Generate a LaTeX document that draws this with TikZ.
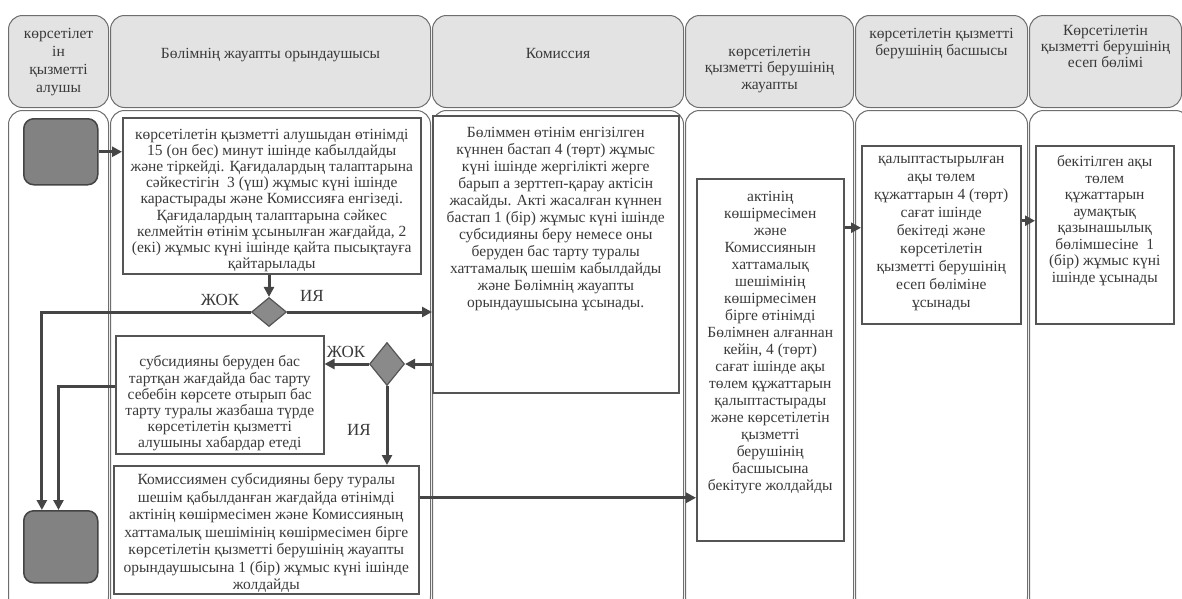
\documentclass[tikz,border=0pt]{standalone}
\usepackage{fontspec}
\setmainfont{Liberation Serif}
\usetikzlibrary{shapes.geometric,arrows.meta,calc}
\definecolor{lanec}{HTML}{6E6E6E}
\definecolor{hdrfill}{HTML}{E3E3E3}
\definecolor{boxc}{HTML}{555555}
\definecolor{arrc}{HTML}{454545}
\definecolor{txtc}{HTML}{3A3A3A}
\definecolor{startfill}{HTML}{828282}
\definecolor{diafill}{HTML}{8A8A8A}
\newcommand{\bfnt}[1]{\fontsize{15.5}{#1}\selectfont}
\newcommand{\hfnt}[1]{\fontsize{15.5}{#1}\selectfont}
\newcommand{\pbx}[4]{\parbox[c][#2][t]{#1}{\centering\vspace*{#3}#4\par}}
\tikzset{
  hdr/.style={draw=lanec, fill=hdrfill, line width=1pt, rounded corners=14pt, inner sep=0pt, anchor=north west, text=txtc},
  lanebody/.style={draw=lanec, fill=white, line width=1pt, rounded corners=14pt, inner sep=0pt, anchor=north west, minimum height=500pt},
  box/.style={draw=boxc, fill=white, line width=1.5pt, inner sep=0pt, anchor=north west, text=txtc},
  term/.style={draw=boxc!80!black, fill=startfill, line width=1.5pt, rounded corners=10pt, inner sep=0pt, anchor=north west},
  dia/.style={diamond, draw=boxc, fill=diafill, line width=1.2pt, inner sep=0pt},
  arr/.style={draw=arrc, line width=3pt, -{Triangle[length=10pt,width=10pt]}},
  lbl/.style={text=txtc, font=\fontsize{17}{19}\selectfont, inner sep=0pt},
}
\begin{document}
\begin{tikzpicture}[x=1pt,y=-1pt]
\useasboundingbox (0,0) rectangle (1182,598);
\clip (0,0) rectangle (1182,598);
% headers
\node[hdr] (h1) at (8,15) {\pbx{100pt}{92pt}{12.5pt}{\hfnt{18}көрсетілет\\ін\\қызметті\\алушы}};
\node[hdr] (h2) at (110,15) {\pbx{320pt}{92pt}{32.5pt}{\hfnt{17}Бөлімнің жауапты орындаушысы}};
\node[hdr] (h3) at (432,15) {\pbx{251pt}{92pt}{32.5pt}{\hfnt{17}Комиссия}};
\node[hdr] (h4) at (685,15) {\pbx{168pt}{92pt}{30.5pt}{\hfnt{16.5}көрсетілетін\\қызметті берушінің\\жауапты}};
\node[hdr] (h5) at (855,15) {\pbx{172pt}{92pt}{12.5pt}{\hfnt{17}көрсетілетін қызметті\\берушінің басшысы}};
\node[hdr] (h6) at (1029,15) {\pbx{152pt}{92pt}{9.5pt}{\hfnt{16}Көрсетілетін\\қызметті берушінің\\есеп бөлімі}};
% lanes
\node[lanebody, minimum width=100pt] (l1) at (8,110) {};
\node[lanebody, minimum width=320pt] (l2) at (110,110) {};
\node[lanebody, minimum width=251pt] (l3) at (432,110) {};
\node[lanebody, minimum width=168pt] (l4) at (685,110) {};
\node[lanebody, minimum width=172pt] (l5) at (855,110) {};
\node[lanebody, minimum width=160pt] (l6) at (1029,110) {};
% terminals
\node[term, minimum width=74pt, minimum height=66pt] (s) at (23,118) {};
\node[term, minimum width=74pt, minimum height=72pt] (e) at (23,510) {};
% boxes
\node[box] (b1) at (122,117) {\pbx{298pt}{156pt}{11pt}{\bfnt{16.2}көрсетілетін қызметті алушыдан өтінімді\\15 (он бес) минут ішінде кабылдайды\\және тіркейді. Қағидалардың талаптарына\\сәйкестігін\ \ 3 (үш) жұмыс күні ішінде\\карастырады және Комиссияға енгізеді.\\Қағидалардың талаптарына сәйкес\\келмейтін өтінім ұсынылған жағдайда, 2\\(екі) жұмыс күні ішінде қайта пысықтауға\\қайтарылады}};
\node[box] (com) at (432,115) {\pbx{246pt}{277pt}{11pt}{\bfnt{17}Бөліммен өтінім енгізілген\\күннен бастап 4 (төрт) жұмыс\\күні ішінде жергілікті жерге\\барып а зерттеп-қарау актісін\\жасайды. Акті жасалған күннен\\бастап 1 (бір) жұмыс күні ішінде\\субсидияны беру немесе оны\\беруден бас тарту туралы\\хаттамалық шешім кабылдайды\\және Бөлімнің жауапты\\орындаушысына ұсынады.}};
\node[box] (ref) at (115,335) {\pbx{208pt}{118pt}{20pt}{\bfnt{16.2}субсидияны беруден бас\\тартқан жағдайда бас тарту\\себебін көрсете отырып бас\\тарту туралы жазбаша түрде\\көрсетілетін қызметті\\алушыны хабардар етеді}};
\node[box] (b3) at (113,465) {\pbx{305pt}{128pt}{8pt}{\bfnt{17.5}Комиссиямен субсидияны беру туралы\\шешім қабылданған жағдайда өтінімді\\актінің көшірмесімен және Комиссияның\\хаттамалық шешімінің көшірмесімен бірге\\көрсетілетін қызметті берушінің жауапты\\орындаушысына 1 (бір) жұмыс күні ішінде\\жолдайды}};
\node[box] (c4) at (696,178) {\pbx{147pt}{362pt}{12pt}{\bfnt{17}актінің\\көшірмесімен\\және\\Комиссиянын\\хаттамалық\\шешімінің\\көшірмесімен\\бірге өтінімді\\Бөлімнен алғаннан\\кейін, 4 (төрт)\\сағат ішінде ақы\\төлем құжаттарын\\қалыптастырады\\және көрсетілетін\\қызметті\\берушінің\\басшысына\\бекітуге жолдайды}};
\node[box] (c5) at (861,145) {\pbx{159pt}{178pt}{10pt}{\bfnt{18}қалыптастырылған\\ақы төлем\\құжаттарын 4 (төрт)\\сағат ішінде\\бекітеді және\\көрсетілетін\\қызметті берушінің\\есеп бөліміне\\ұсынады}};
\node[box] (c6) at (1035,145) {\pbx{138pt}{178pt}{10pt}{\bfnt{16.5}бекітілген ақы\\төлем\\құжаттарын\\аумақтық\\қазынашылық\\бөлімшесіне\ \ 1\\(бір) жұмыс күні\\ішінде ұсынады}};
% decisions
\node[dia, minimum width=35pt, minimum height=29pt] (d1) at (269,312) {};
\node[dia, minimum width=35pt, minimum height=43pt] (d2) at (387,364) {};
% labels
\node[lbl] (n1) at (220,300) {ЖОК};
\node[lbl] (y1) at (312,296) {ИЯ};
\node[lbl] (n2) at (346,352) {ЖОК};
\node[lbl] (y2) at (359,430) {ИЯ};
% connectors
\coordinate (ea) at ($(e.north west)!0.25!(e.north east)$);
\coordinate (eb) at ($(e.north west)!0.47!(e.north east)$);
\coordinate (refo) at ($(ref.west)+(0,-8)$);
\coordinate (b3o) at ($(b3.east)+(0,-32)$);
\coordinate (c4o) at ($(c4.east)+(0,-132)$);
\coordinate (c5o) at ($(c5.east)+(0,-14)$);
\draw[arr] (s.east) -- (s.east -| b1.west);
\draw[arr] (d1.north |- b1.south) -- (d1.north);
\draw[arr] (d1.east) -- (d1.east -| com.west);
\draw[arr] (d1.west) -| (ea);
\draw[arr] (refo) -| (eb);
\draw[arr] (com.west |- d2.east) -- (d2.east);
\draw[arr] (d2.west) -- (d2.west -| ref.east);
\draw[arr] (d2.south) -- (d2.south |- b3.north);
\draw[arr] (b3o) -- (b3o -| c4.west);
\draw[arr] (c4o) -- (c4o -| c5.west);
\draw[arr] (c5o) -- (c5o -| c6.west);
\end{tikzpicture}
\end{document}
